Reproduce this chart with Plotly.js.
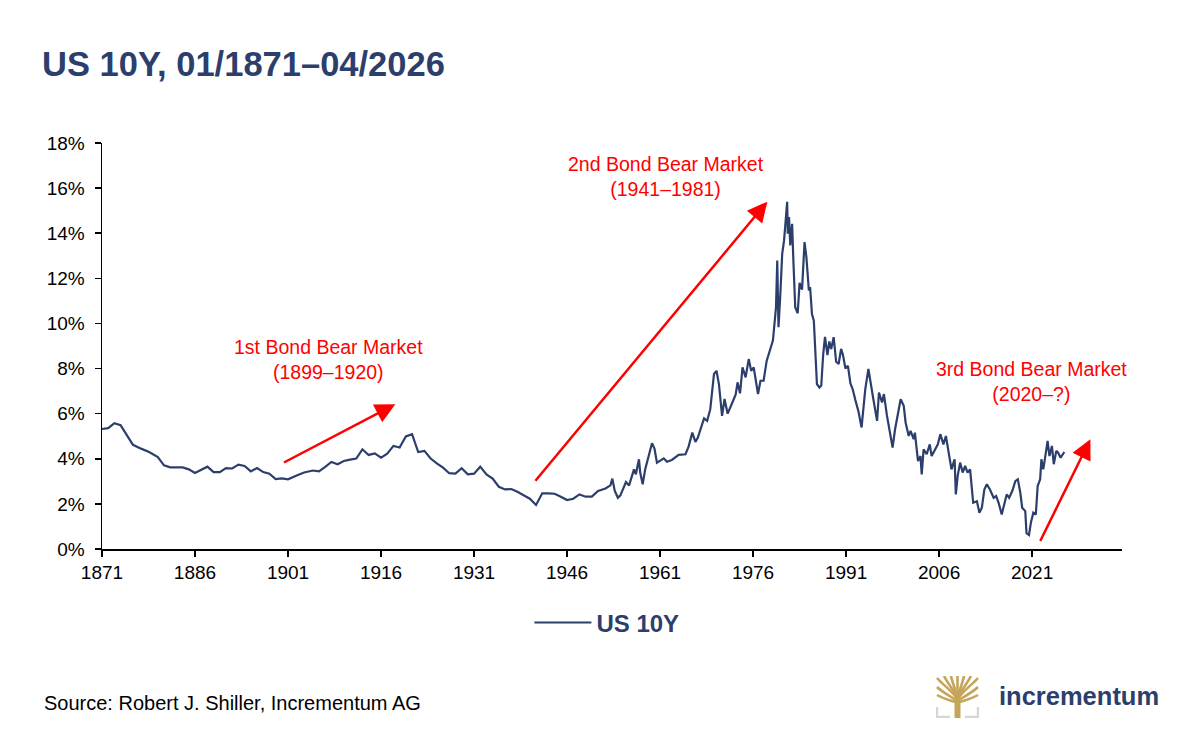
<!DOCTYPE html>
<html>
<head>
<meta charset="utf-8">
<script src="https://cdn.plot.ly/plotly-3.0.1.min.js"></script>
<style>
  html, body { margin: 0; padding: 0; background: #ffffff; }
  #wrap { position: relative; width: 1200px; height: 748px; }
  #chart { width: 1200px; height: 748px; }
  #logo { position: absolute; left: 936px; top: 676px; width: 43px; height: 42px; }
</style>
</head>
<body>
<div id="wrap">
  <div id="chart"></div>
  <svg id="logo" viewBox="0 0 43 42" xmlns="http://www.w3.org/2000/svg">
    <g stroke="#c5a55a" stroke-width="2.6" fill="none" stroke-linecap="butt">
      <path d="M21.5 24 C18 16, 8 10, 1 2"/>
      <path d="M21.5 24 C19 15, 12 8, 8 0"/>
      <path d="M21.5 24 C20 14, 16 6, 15 0"/>
      <path d="M21.5 24 L21.5 0"/>
      <path d="M21.5 24 C23 14, 27 6, 28 0"/>
      <path d="M21.5 24 C24 15, 31 8, 35 0"/>
      <path d="M21.5 24 C25 16, 35 10, 42 2"/>
      <path d="M20 24 C14 20, 6 16, 1 11"/>
      <path d="M23 24 C29 20, 37 16, 42 11"/>
      <path d="M19 26 C13 24, 6 22, 1 19"/>
      <path d="M24 26 C30 24, 37 22, 42 19"/>
    </g>
    <rect x="18.5" y="22" width="6" height="20" fill="#c5a55a"/>
    <path d="M1 31 V41 H14" stroke="#d6d6d6" stroke-width="2.4" fill="none"/>
    <path d="M42 31 V41 H29" stroke="#d6d6d6" stroke-width="2.4" fill="none"/>
  </svg>
</div>
<script>
// ---- Data ----
var years = [
  1871.0, 1872.0, 1873.0, 1874.0, 1875.0, 1876.0, 1877.3, 1878.6, 1880.0, 1881.0,
  1882.0, 1884.0, 1885.0, 1886.0, 1888.0, 1889.0, 1890.0, 1891.0, 1892.0, 1893.0,
  1894.0, 1895.0, 1896.0, 1897.0, 1898.0, 1899.0, 1900.0, 1901.0, 1902.5, 1903.6,
  1905.0, 1906.0, 1907.0, 1908.0, 1909.0, 1910.0, 1911.0, 1912.0, 1913.0, 1914.0,
  1915.0, 1916.0, 1917.0, 1918.0, 1919.0, 1920.0, 1921.0, 1922.0, 1923.0, 1924.0,
  1925.0, 1926.0, 1927.0, 1928.0, 1929.0, 1930.0, 1931.0, 1932.0, 1933.0, 1934.0,
  1935.0, 1936.0, 1937.0, 1938.0, 1939.0, 1940.0, 1941.0, 1942.0, 1943.0, 1944.0,
  1945.0, 1946.0, 1947.0, 1948.0, 1949.0, 1950.0, 1951.0, 1952.2, 1953.0, 1953.3,
  1953.7, 1954.2, 1954.6, 1955.1, 1955.5, 1956.0, 1956.4, 1956.8, 1957.1, 1957.6,
  1957.8, 1958.2, 1958.6, 1959.2, 1959.7, 1960.1, 1960.5, 1961.1, 1961.6, 1962.1,
  1962.9, 1964.0, 1965.1, 1965.6, 1966.2, 1966.7, 1967.1, 1967.7, 1968.1, 1968.6,
  1969.1, 1969.7, 1970.1, 1970.5, 1971.0, 1971.4, 1971.9, 1972.6, 1973.2, 1973.5,
  1973.9, 1974.3, 1974.8, 1975.3, 1975.7, 1976.1, 1976.5, 1976.8, 1977.2, 1977.7,
  1978.2, 1978.8, 1979.2, 1979.5, 1979.7, 1979.9, 1980.1, 1980.4, 1980.7, 1981.0,
  1981.2, 1981.5, 1981.6, 1981.8, 1982.0, 1982.3, 1982.5, 1982.8, 1983.2, 1983.5,
  1983.9, 1984.3, 1984.6, 1985.0, 1985.2, 1985.5, 1985.8, 1986.0, 1986.3, 1986.7,
  1987.0, 1987.3, 1987.6, 1988.0, 1988.3, 1988.6, 1989.0, 1989.4, 1989.8, 1990.2,
  1990.5, 1990.9, 1991.3, 1991.7, 1992.1, 1992.5, 1993.0, 1993.5, 1994.1, 1994.6,
  1995.1, 1995.4, 1996.0, 1996.3, 1996.8, 1997.1, 1997.6, 1998.1, 1998.5, 1998.9,
  1999.3, 1999.8, 2000.3, 2000.6, 2001.1, 2001.4, 2001.9, 2002.1, 2002.6, 2003.0,
  2003.2, 2003.5, 2004.0, 2004.5, 2004.8, 2005.4, 2005.8, 2006.2, 2006.7, 2007.1,
  2007.5, 2008.0, 2008.5, 2008.7, 2009.0, 2009.4, 2009.8, 2010.2, 2010.6, 2011.0,
  2011.5, 2012.1, 2012.5, 2012.9, 2013.3, 2013.7, 2014.2, 2014.8, 2015.2, 2015.6,
  2016.1, 2016.5, 2016.9, 2017.3, 2017.8, 2018.3, 2018.7, 2019.1, 2019.4, 2019.9,
  2020.1, 2020.5, 2020.8, 2021.2, 2021.6, 2021.9, 2022.3, 2022.5, 2022.8, 2023.1,
  2023.5, 2023.8, 2024.2, 2024.5, 2024.9, 2025.2, 2025.6, 2026.2
];
var yields = [
  5.32, 5.36, 5.58, 5.49, 5.05, 4.62, 4.45, 4.30, 4.08, 3.71,
  3.62, 3.62, 3.53, 3.37, 3.65, 3.41, 3.41, 3.59, 3.57, 3.74,
  3.68, 3.44, 3.59, 3.41, 3.34, 3.10, 3.13, 3.09, 3.27, 3.39,
  3.48, 3.44, 3.64, 3.86, 3.76, 3.90, 3.96, 4.01, 4.42, 4.17,
  4.24, 4.05, 4.23, 4.57, 4.50, 4.99, 5.09, 4.30, 4.35, 4.01,
  3.80, 3.61, 3.36, 3.34, 3.58, 3.31, 3.34, 3.65, 3.31, 3.12,
  2.76, 2.64, 2.66, 2.54, 2.38, 2.23, 1.95, 2.47, 2.47, 2.45,
  2.32, 2.17, 2.23, 2.42, 2.32, 2.32, 2.57, 2.68, 2.82, 3.12,
  2.57, 2.27, 2.38, 2.72, 2.97, 2.82, 3.21, 3.53, 3.31, 3.98,
  3.39, 2.87, 3.53, 4.20, 4.69, 4.45, 3.83, 3.93, 4.02, 3.87,
  3.95, 4.17, 4.20, 4.54, 5.16, 4.75, 4.94, 5.46, 5.79, 5.68,
  6.20, 7.76, 7.90, 7.30, 5.90, 6.65, 6.00, 6.45, 6.85, 7.39,
  6.90, 8.05, 7.61, 8.42, 7.90, 8.05, 7.39, 6.87, 7.46, 7.46,
  8.35, 8.94, 9.24, 10.12, 10.72, 12.79, 9.83, 11.31, 13.09, 13.68,
  14.28, 15.39, 13.98, 14.72, 13.46, 14.42, 12.79, 10.72, 10.45, 11.80,
  11.50, 13.61, 12.94, 11.46, 11.61, 10.42, 10.12, 8.79, 7.31, 7.16,
  7.25, 8.60, 9.40, 8.60, 9.20, 8.87, 9.39, 8.30, 8.20, 8.87,
  8.60, 8.00, 8.12, 7.35, 7.05, 6.60, 6.10, 5.39, 7.09, 7.98,
  7.24, 6.64, 5.68, 6.94, 6.50, 6.87, 5.90, 5.16, 4.50, 5.31,
  5.98, 6.64, 6.35, 5.61, 5.01, 5.24, 4.87, 5.16, 3.90, 4.12,
  3.31, 4.42, 4.20, 4.64, 4.12, 4.42, 4.64, 5.09, 4.64, 5.01,
  4.42, 3.53, 3.98, 2.42, 3.24, 3.83, 3.39, 3.68, 3.39, 3.53,
  2.05, 2.12, 1.61, 1.83, 2.64, 2.87, 2.64, 2.27, 2.35, 2.05,
  1.53, 2.05, 2.42, 2.27, 2.57, 3.01, 3.09, 2.50, 1.83, 1.68,
  0.70, 0.62, 1.16, 1.61, 1.53, 2.79, 3.09, 3.98, 3.53, 4.05,
  4.79, 4.12, 4.57, 3.76, 4.35, 4.27, 4.05, 4.30
];
var xTickVals = [1871, 1886, 1901, 1916, 1931, 1946, 1961, 1976, 1991, 2006, 2021];
var yTickVals = [0, 2, 4, 6, 8, 10, 12, 14, 16, 18];
var yTickText = ['0%', '2%', '4%', '6%', '8%', '10%', '12%', '14%', '16%', '18%'];
var seriesName = 'US 10Y';
var chartTitle = 'US 10Y, 01/1871\u201304/2026';
var bearLabels = ['1st Bond Bear Market<br>(1899\u20131920)', '2nd Bond Bear Market<br>(1941\u20131981)', '3rd Bond Bear Market<br>(2020\u2013?)'];
var bearLabelX = [1907.5, 1961.9, 2020.9];
var bearLabelY = [8.4, 16.5, 7.42];
var arrowTailX = [1900.1, 1940.7, 2022.2];
var arrowTailY = [3.8, 2.96, 0.29];
var arrowHeadX = [1918.3, 1978.3, 2030.4];
var arrowHeadY = [6.42, 15.4, 4.87];

// ---- Styles ----
var FONT = 'Liberation Sans, Arial, Helvetica, sans-serif';
var NAVY = '#2c3f6c';
var RED = '#ff0000';

var trace = {
  x: years,
  y: yields,
  type: 'scatter',
  mode: 'lines',
  name: '<b>' + seriesName + '</b>',
  line: { color: NAVY, width: 2.2 },
  hoverinfo: 'x+y'
};

var annotations = [];
for (var i = 0; i < bearLabels.length; i++) {
  annotations.push({
    x: bearLabelX[i], y: bearLabelY[i], xref: 'x', yref: 'y',
    text: bearLabels[i], showarrow: false,
    font: { family: FONT, size: 19.5, color: RED },
    align: 'center', xanchor: 'center', yanchor: 'middle'
  });
  annotations.push({
    x: arrowHeadX[i], y: arrowHeadY[i], xref: 'x', yref: 'y',
    ax: arrowTailX[i], ay: arrowTailY[i], axref: 'x', ayref: 'y',
    text: '', showarrow: true, arrowhead: 2, arrowsize: 1.6,
    arrowwidth: 2.5, arrowcolor: RED, standoff: 0, startstandoff: 0
  });
}
annotations.push({
  x: -0.0588, y: -0.379, xref: 'paper', yref: 'paper',
  text: 'Source: Robert J. Shiller, Incrementum AG', showarrow: false,
  font: { family: FONT, size: 20, color: '#000000' },
  xanchor: 'left', yanchor: 'middle'
});
annotations.push({
  x: 0.8774, y: -0.362, xref: 'paper', yref: 'paper',
  text: '<b>incrementum</b>', showarrow: false,
  font: { family: FONT, size: 25.5, color: NAVY },
  xanchor: 'left', yanchor: 'middle'
});

var layout = {
  width: 1200,
  height: 748,
  paper_bgcolor: '#ffffff',
  plot_bgcolor: '#ffffff',
  margin: { l: 102, r: 78, t: 143, b: 199, pad: 0 },
  title: {
    text: '<b>' + chartTitle + '</b>',
    font: { family: FONT, size: 34.5, color: NAVY },
    xref: 'container', yref: 'container',
    x: 0.035, xanchor: 'left',
    y: 1 - 64 / 748, yanchor: 'middle'
  },
  showlegend: true,
  legend: {
    orientation: 'h',
    x: 0.495, xanchor: 'center',
    y: -0.182, yanchor: 'middle',
    itemwidth: 57,
    font: { family: FONT, size: 24, color: NAVY },
    bgcolor: 'rgba(0,0,0,0)'
  },
  xaxis: {
    range: [1871, 2035.5],
    tickvals: xTickVals,
    ticktext: xTickVals.map(String),
    showgrid: false,
    zeroline: false,
    showline: true,
    linecolor: '#000000',
    linewidth: 1.5,
    ticks: 'outside',
    ticklen: 6,
    tickwidth: 1.5,
    tickcolor: '#000000',
    tickfont: { family: FONT, size: 19, color: '#000000' },
    fixedrange: true
  },
  yaxis: {
    range: [0, 18],
    tickvals: yTickVals,
    ticktext: yTickText,
    showgrid: false,
    zeroline: false,
    showline: true,
    linecolor: '#000000',
    linewidth: 1.5,
    ticks: 'outside',
    ticklen: 6,
    tickwidth: 1.5,
    tickcolor: '#000000',
    tickfont: { family: FONT, size: 19, color: '#000000' },
    ticklabelstandoff: 6,
    fixedrange: true
  },
  annotations: annotations
};

Plotly.newPlot('chart', [trace], layout, { displayModeBar: false, staticPlot: true });
</script>
</body>
</html>
